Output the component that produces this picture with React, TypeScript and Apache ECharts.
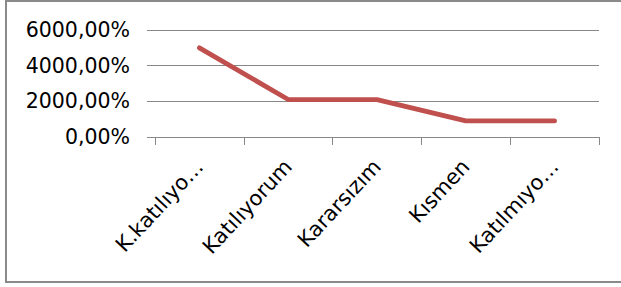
import React, { useEffect, useRef } from "react";
import * as echarts from "echarts";

const categories = ["K.katılıyo…", "Katılıyorum", "Kararsızım", "Kısmen", "Katılmıyo…"];
const values = [5000, 2100, 2100, 900, 900];
const yTicks = { min: 0, max: 6000, interval: 2000 };

export default function App() {
  const ref = useRef<HTMLDivElement>(null);
  useEffect(() => {
    if (!ref.current) return;
    const chart = echarts.init(ref.current, null, { renderer: "svg" });
    chart.setOption({
      animation: false,
      backgroundColor: "#ffffff",
      textStyle: { fontFamily: "DejaVu Sans" },
      graphic: [
        {
          type: "rect",
          shape: { x: 6, y: 1, width: 640, height: 281 },
          style: { fill: "none", stroke: "#8a8a8a", lineWidth: 2 },
          silent: true,
        },
      ],
      grid: { left: 155, right: 22, top: 30, bottom: 150, containLabel: false },
      xAxis: {
        type: "category",
        data: categories,
        boundaryGap: true,
        axisLine: { show: true, lineStyle: { color: "#888888", width: 1 } },
        axisTick: { show: true, length: 8, alignWithLabel: false, lineStyle: { color: "#888888" } },
        axisLabel: {
          rotate: 47,
          interval: 0,
          margin: 26,
          fontSize: 21,
          color: "#000000",
          fontFamily: "DejaVu Sans",
        },
      },
      yAxis: {
        type: "value",
        min: yTicks.min,
        max: yTicks.max,
        interval: yTicks.interval,
        axisLine: { show: false },
        axisTick: { show: true, length: 8, lineStyle: { color: "#888888" } },
        splitLine: { show: true, lineStyle: { color: "#888888", width: 1 } },
        axisLabel: {
          margin: 25,
          fontSize: 20.5,
          color: "#000000",
          fontFamily: "DejaVu Sans",
          formatter: (v: number) => v.toFixed(2).replace(".", ",") + "%",
        },
      },
      series: [
        {
          type: "line",
          data: values,
          showSymbol: false,
          symbol: "none",
          lineStyle: { color: "#C0504D", width: 4.8, cap: "round", join: "round" },
        },
      ],
    });
    return () => chart.dispose();
  }, []);
  return (
    <div
      ref={ref}
      style={{ position: "fixed", left: 0, top: 0, width: 621, height: 287 }}
    />
  );
}
